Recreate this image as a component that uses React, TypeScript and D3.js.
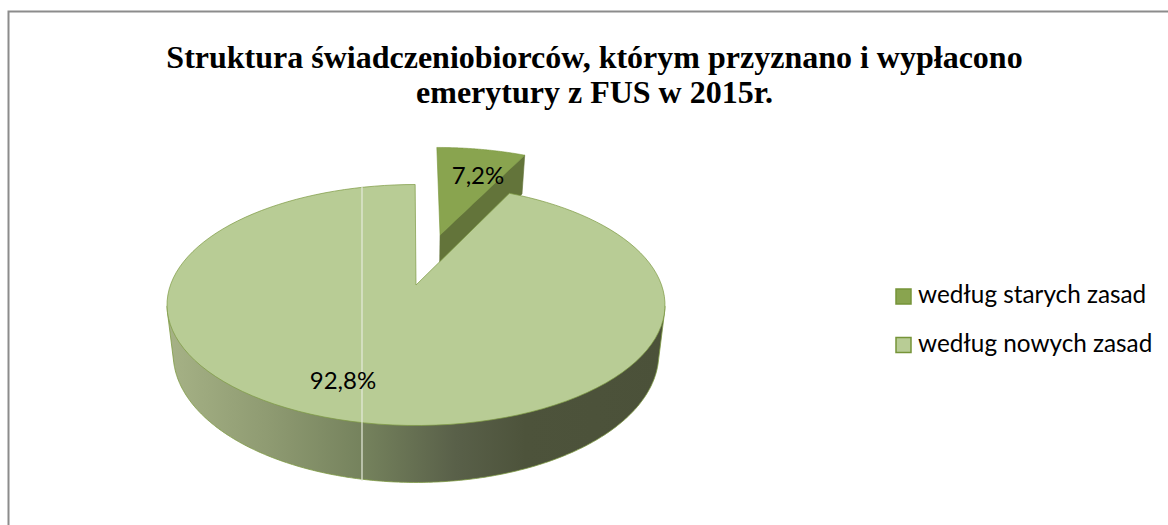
import React from "react";
import * as d3 from "d3";

const categories = ["według starych zasad", "według nowych zasad"];
const shares = [7.2, 92.8];
const shareLabels = ["7,2%", "92,8%"];
const titleLines = [
  "Struktura świadczeniobiorców, którym przyznano i wypłacono",
  "emerytury z FUS w 2015r.",
];
const wallStops: [number, string][] = [
  [0, "#a6b286"],
  [0.2, "#8f9b72"],
  [0.4, "#74815c"],
  [0.58, "#596049"],
  [0.72, "#4d533b"],
  [1, "#4b5139"],
];

const W = 1168;
const H = 525;
const cx = 416;
const cy = 305;
const rx = 249;
const ry = 120.5;
const apexOffset = 20;
const persp = (2 * apexOffset) / (2 * ry);
const kx = Math.sqrt(1 - persp * persp);
const depth = 47.5;
const explode = 0.47;
const bottomShrink = 0.975;

type P = [number, number];

const project = (u: number, v: number): P => {
  const w = persp * v + 1;
  return [cx + (rx * kx * u) / w, cy - (ry * v + apexOffset) / w];
};
const rim = (a: number, du = 0, dv = 0): P =>
  project(du + Math.sin(a), dv + Math.cos(a));
const down = (u: number, v: number): P => {
  const w = persp * v + 1;
  const [x, y] = project(u, v);
  return [cx + (x - cx) * bottomShrink, y + depth / w];
};

const line = d3.line<P>().x((d) => d[0]).y((d) => d[1]);
const arcs = d3.pie<number>().sort(null)(shares);
const arcPts = (a0: number, a1: number, du = 0, dv = 0): P[] =>
  d3.range(0, 121).map((i) => rim(a0 + ((a1 - a0) * i) / 120, du, dv));

export default function App() {
  const small = arcs[0];
  const big = arcs[1];
  const mid = (small.startAngle + small.endAngle) / 2;
  const du = explode * Math.sin(mid);
  const dv = explode * Math.cos(mid);

  const smallApex = project(du, dv);
  const smallTop = [smallApex, ...arcPts(small.startAngle, small.endAngle, du, dv)];
  const smallEndU = du + Math.sin(small.endAngle);
  const smallEndV = dv + Math.cos(small.endAngle);
  const smallSide: P[] = [
    smallApex,
    project(smallEndU, smallEndV),
    down(smallEndU, smallEndV),
    down(du, dv),
  ];
  const bigTop: P[] = [project(0, 0), ...arcPts(big.startAngle, big.endAngle - 0.004)];

  const ring = d3.range(0, 720).map((i) => (i * Math.PI) / 360);
  const hullPts: P[] = [
    ...ring.map((a) => rim(a)),
    ...ring.map((a) => down(Math.sin(a), Math.cos(a))),
  ].filter((p) => p[1] >= cy) as P[];
  const wall = (d3.polygonHull(hullPts) || []) as P[];

  const stripeX = 362;
  const top = rim(2 * Math.PI - Math.asin((cx - stripeX) / (rx * kx)));
  const yStripeBottom = 481;

  const sans = "Lato, Carlito, sans-serif";
  return (
    <svg
      width={W}
      height={H}
      viewBox={`0 0 ${W} ${H}`}
      style={{ position: "absolute", left: 0, top: 0, background: "#fff" }}
    >
      <defs>
        <linearGradient id="wall" x1={167} x2={665} y1={0} y2={0} gradientUnits="userSpaceOnUse">
          {wallStops.map(([o, c]) => (
            <stop key={o} offset={o} stopColor={c} />
          ))}
        </linearGradient>
      </defs>
      <path d={`M8.5 525V11.5H1168`} fill="none" stroke="#8c8c8c" strokeWidth={2} />

      {titleLines.map((t, i) => (
        <text
          key={t}
          x={594.5}
          y={67.5 + i * 35.5}
          textAnchor="middle"
          fontFamily="'Liberation Serif', serif"
          fontWeight="bold"
          fontSize={32}
          fill="#000"
        >
          {t}
        </text>
      ))}

      <path d={line(smallSide) + "Z"} fill="#63743a" stroke="#63743a" strokeWidth={0.6} />
      <path d={line(smallTop) + "Z"} fill="#89a44f" stroke="#769438" strokeWidth={0.6} />
      <path d={line(wall) + "Z"} fill="url(#wall)" stroke="#7d9a42" strokeWidth={0.8} />
      <path d={line(bigTop) + "Z"} fill="#b8cc95" stroke="#7d9a42" strokeWidth={0.7} />
      <line x1={stripeX} x2={stripeX} y1={top[1]} y2={yStripeBottom} stroke="#e6ebdc" strokeWidth={1.2} />

      <text x={478} y={184} textAnchor="middle" fontFamily={sans} fontSize={24} fill="#000">
        {shareLabels[0]}
      </text>
      <text x={343} y={389} textAnchor="middle" fontFamily={sans} fontSize={24} fill="#000">
        {shareLabels[1]}
      </text>

      {categories.map((c, i) => (
        <g key={c}>
          <rect
            x={896}
            y={289 + i * 48.5}
            width={15}
            height={15}
            fill={i === 0 ? "#89a44f" : "#b8cc95"}
            stroke="#769438"
            strokeWidth={1.5}
          />
          <text x={918} y={303 + i * 48.5} fontFamily={sans} fontSize={24.3} fill="#000">
            {c}
          </text>
        </g>
      ))}
    </svg>
  );
}
